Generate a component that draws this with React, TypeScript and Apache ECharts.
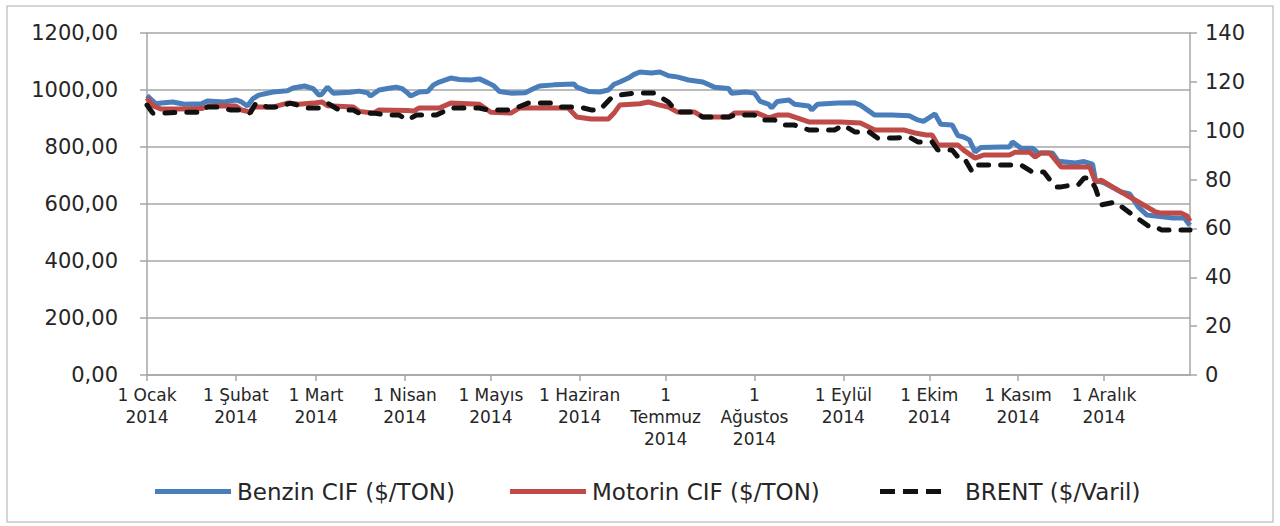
import React, { useEffect, useRef } from "react";
import * as echarts from "echarts";

const monthLabels = [
  "1 Ocak\n2014", "1 Şubat\n2014", "1 Mart\n2014", "1 Nisan\n2014",
  "1 Mayıs\n2014", "1 Haziran\n2014", "1\nTemmuz\n2014", "1\nAğustos\n2014",
  "1 Eylül\n2014", "1 Ekim\n2014", "1 Kasım\n2014", "1 Aralık\n2014",
];

const seriesNames = ["Benzin CIF ($/TON)", "Motorin CIF ($/TON)", "BRENT ($/Varil)"];

const benzinDates = [
  "01-01","01-04","01-06","01-10","01-14","01-20","01-22","01-28","02-01","02-03","02-05","02-07",
  "02-09","02-14","02-19","02-21","02-25","02-28","03-02","03-03","03-05","03-07","03-13","03-16",
  "03-19","03-20","03-23","03-27","03-29","03-31","04-02","04-03","04-06","04-09","04-11","04-13",
  "04-17","04-20","04-24","04-27","04-30","05-02","05-04","05-08","05-13","05-16","05-18","05-23",
  "05-30","05-31","06-04","06-08","06-11","06-13","06-15","06-18","06-20","06-22","06-26","06-29",
  "07-02","07-05","07-09","07-14","07-18","07-23","07-24","07-29","08-01","08-03","08-06","08-07",
  "08-09","08-13","08-15","08-20","08-21","08-23","08-30","09-05","09-07","09-12","09-18","09-24",
  "09-27","09-29","10-03","10-05","10-09","10-11","10-13","10-15","10-17","10-19","10-26","10-29",
  "10-30","11-02","11-06","11-08","11-13","11-15","11-21","11-24","11-27","11-28","12-01","12-07",
  "12-10","12-13","12-16","12-19","12-25","12-29","12-31",
];
const benzinValues = [
  980,952,954,958,950,952,961,958,965,958,944,970,
  982,993,997,1007,1014,1005,982,985,1010,989,992,996,
  990,979,1000,1007,1010,1005,989,979,993,995,1018,1028,
  1042,1037,1035,1039,1025,1015,995,989,990,1005,1014,1018,
  1021,1010,995,993,1000,1020,1028,1042,1055,1063,1060,1063,
  1050,1046,1035,1028,1010,1005,989,993,989,960,950,937,
  960,965,950,944,930,950,954,955,947,912,912,910,
  895,890,916,880,877,840,835,825,782,798,800,800,
  818,796,796,779,779,750,744,749,740,684,674,642,
  635,589,561,558,551,551,525,
];

const motorinDates = [
  "01-01","01-03","01-06","01-12","01-20","01-23","02-01","02-03","02-06","02-07","02-14","02-19",
  "02-23","02-28","03-03","03-05","03-14","03-16","03-21","03-23","04-02","04-04","04-06","04-13",
  "04-17","04-27","05-01","05-08","05-11","05-28","05-31","06-05","06-11","06-13","06-15","06-22",
  "06-25","06-29","07-02","07-05","07-11","07-14","07-23","07-25","08-02","08-06","08-09","08-13",
  "08-20","08-31","09-07","09-12","09-19","09-22","09-26","09-30","10-02","10-04","10-11","10-13",
  "10-17","10-20","10-29","10-31","11-05","11-07","11-09","11-12","11-16","11-26","11-28","11-30",
  "12-07","12-13","12-19","12-21","12-28","12-30","12-31",
];
const motorinValues = [
  972,945,933,933,935,944,944,930,923,940,940,954,
  950,954,958,945,940,925,919,930,928,926,937,937,
  954,950,922,919,937,937,905,898,898,919,947,952,
  958,947,940,923,923,905,905,919,919,902,912,912,
  888,888,884,860,860,860,849,842,842,807,807,789,
  761,772,772,782,782,765,779,779,730,730,677,684,
  642,607,572,568,568,558,540,
];

const brentDates = [
  "01-01","01-03","01-06","01-14","01-20","01-22","01-26","01-30","02-02","02-06","02-08","02-12",
  "02-16","02-20","02-26","03-02","03-05","03-09","03-14","03-16","03-21","03-26","03-30","04-02",
  "04-05","04-12","04-17","04-27","04-30","05-08","05-14","05-22","05-25","06-01","06-05","06-08",
  "06-12","06-15","06-20","06-27","07-02","07-05","07-11","07-14","07-23","07-25","08-01","08-03",
  "08-08","08-11","08-15","08-20","08-29","09-01","09-05","09-10","09-13","09-19","09-24","09-27",
  "10-02","10-04","10-09","10-11","10-13","10-16","10-18","11-02","11-06","11-10","11-14","11-16",
  "11-20","11-22","11-24","11-26","11-28","11-30","12-05","12-11","12-17","12-19","12-21","12-31",
];
const brentValues = [
  110.5,107.2,107.2,107.6,107.6,109.7,109.7,108.5,108.5,107.2,111.3,109.7,
  109.7,111.3,109.3,109.3,111.3,108.5,108.5,107.2,107.2,106.4,106.4,104.4,
  106.4,106.4,109.3,109.3,108.5,108.5,111.3,111.3,109.7,109.7,108.5,108.5,
  113.4,114.6,115.4,115.4,111.7,107.7,107.7,105.6,105.6,106.4,106.4,104.4,
  104.4,102.3,102.3,100.3,100.3,102.3,99.5,99.5,97,97,97.4,95.4,
  95.4,92.1,92.1,89.2,89.2,83.1,86,86,83.1,83.1,77,77,
  77.8,77.8,80.6,80.6,76.5,69.6,70.8,65.5,60.6,60.6,59.4,59.4,
];

const leftTicks = { min: 0, max: 1200, interval: 200 };
const rightTicks = { min: 0, max: 140, interval: 20 };

function buildDays(): string[] {
  const out: string[] = [];
  const start = Date.UTC(2014, 0, 1);
  for (let i = 0; i < 365; i++) {
    const d = new Date(start + i * 86400000);
    const m = String(d.getUTCMonth() + 1).padStart(2, "0");
    const day = String(d.getUTCDate()).padStart(2, "0");
    out.push(`2014-${m}-${day}`);
  }
  return out;
}

function pairs(dates: string[], vals: number[]) {
  return dates.map((d, i) => ["2014-" + d, vals[i]]);
}

export default function App() {
  const ref = useRef<HTMLDivElement>(null);
  useEffect(() => {
    document.body.style.margin = "0";
    if (!ref.current) return;
    const chart = echarts.init(ref.current, undefined, { renderer: "svg" });
    const days = buildDays();
    const isMonthStart = (_i: number, v: string) => v.endsWith("-01");
    const font = "DejaVu Sans";
    const gridColor = "#a6a6a6";
    const textColor = "#262626";
    const blue = "#4a7ebb";
    const red = "#be4b48";
    const black = "#111111";
    const solidIcon = "path://M0,0H76V5H0Z";
    const dashIcon = "path://M0,0H15V5H0Z M23,0H38V5H23Z M46,0H61V5H46Z";
    chart.setOption({
      animation: false,
      backgroundColor: "#ffffff",
      textStyle: { fontFamily: font },
      graphic: [
        {
          type: "rect",
          shape: { x: 7, y: 6, width: 1266, height: 516 },
          style: { fill: "none", stroke: "#c8c8c8", lineWidth: 1.5 },
          silent: true,
        },
      ],
      grid: { left: 147, right: 90, top: 33, bottom: 151, containLabel: false },
      legend: seriesNames.map((n, i) => ({
        data: [{ name: n, icon: i === 2 ? dashIcon : solidIcon }],
        left: [150, 505, 875][i],
        top: 475,
        itemWidth: i === 2 ? 61 : 76,
        itemHeight: 5,
        itemGap: 0,
        textStyle: {
          fontFamily: font,
          fontSize: 23,
          color: textColor,
          padding: [0, 0, 0, i === 2 ? 19 : 1],
        },
      })),
      xAxis: {
        type: "category",
        data: days,
        boundaryGap: false,
        axisLine: { lineStyle: { color: gridColor, width: 1.5 } },
        axisTick: { interval: isMonthStart, length: 6, lineStyle: { color: gridColor, width: 1.5 } },
        axisLabel: {
          interval: isMonthStart,
          formatter: (v: string) => monthLabels[parseInt(v.slice(5, 7), 10) - 1],
          fontFamily: font,
          fontSize: 17,
          lineHeight: 22,
          color: textColor,
          margin: 9,
        },
        splitLine: { show: false },
      },
      yAxis: [
        {
          type: "value",
          ...leftTicks,
          axisLine: { show: true, lineStyle: { color: gridColor, width: 1.5 } },
          axisTick: { show: true, length: 7, lineStyle: { color: gridColor, width: 1.5 } },
          axisLabel: {
            formatter: (v: number) => v.toFixed(2).replace(".", ","),
            fontFamily: font,
            fontSize: 21,
            color: textColor,
            margin: 29,
          },
          splitLine: { show: true, lineStyle: { color: gridColor, width: 1.5 } },
        },
        {
          type: "value",
          ...rightTicks,
          position: "right",
          axisLine: { show: true, lineStyle: { color: gridColor, width: 1.5 } },
          axisTick: { show: true, length: 7, lineStyle: { color: gridColor, width: 1.5 } },
          axisLabel: { fontFamily: font, fontSize: 21, color: textColor, margin: 15 },
          splitLine: { show: false },
        },
      ],
      series: [
        {
          name: seriesNames[0],
          type: "line",
          yAxisIndex: 0,
          data: pairs(benzinDates, benzinValues),
          symbol: "none",
          lineStyle: { color: blue, width: 5 },
          itemStyle: { color: blue },
          z: 3,
        },
        {
          name: seriesNames[1],
          type: "line",
          yAxisIndex: 0,
          data: pairs(motorinDates, motorinValues),
          symbol: "none",
          lineStyle: { color: red, width: 5 },
          itemStyle: { color: red },
          z: 4,
        },
        {
          name: seriesNames[2],
          type: "line",
          yAxisIndex: 1,
          data: pairs(brentDates, brentValues),
          symbol: "none",
          lineStyle: { color: black, width: 5, type: [10, 12], cap: "round" },
          itemStyle: { color: black },
          z: 5,
        },
      ],
    });
    return () => chart.dispose();
  }, []);
  return <div ref={ref} style={{ width: 1280, height: 526 }} />;
}
